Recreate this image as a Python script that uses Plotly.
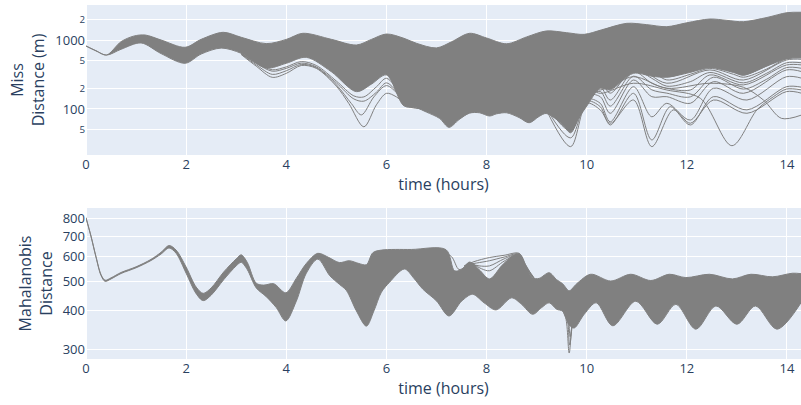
import plotly.graph_objects as go

GREY = "rgb(128,128,128)"

# ---------------- Miss distance (m): dense bundle envelope ----------------
miss_upper_t = [0, 0.2, 0.41, 0.7, 0.95, 1.18, 1.5, 1.98, 2.3, 2.74, 3.1, 3.6, 4.0, 4.33,
                4.9, 5.4, 5.7, 6.0, 6.35, 6.6, 7.0, 7.3, 7.66, 8.0, 8.4, 8.8, 9.19, 9.6,
                9.95, 10.3, 10.8, 11.2, 11.6, 12.0, 12.46, 12.8, 13.13, 13.6, 14.0, 14.3]
miss_upper = [826, 706, 611, 955, 1150, 1195, 1010, 791, 1033, 1307, 1106, 895, 1030, 1264,
              1033, 854, 1030, 1235, 1069, 904, 775, 950, 1264, 1080, 890, 1120, 1366, 1290,
              1220, 1420, 1766, 1690, 1578, 1800, 2042, 1950, 1866, 2150, 2523, 2560]

miss_lower_t = [0, 0.2, 0.41, 0.7, 1.1, 1.5, 1.98, 2.3, 2.7, 3.1, 3.6, 4.0, 4.4, 4.9, 5.4,
                5.7, 6.0, 6.35, 6.6, 6.8, 7.06, 7.25, 7.45, 7.66, 7.86, 8.06, 8.2, 8.4, 8.65,
                8.85, 9.05, 9.19, 9.4, 9.55, 9.68, 9.85, 10.0, 10.27, 10.47, 10.93,
                11.3, 11.6, 12.06, 12.46, 12.93, 13.13, 13.59, 14.0, 14.3]
miss_lower = [826, 700, 609, 740, 915, 640, 463, 631, 770, 646, 395, 463, 565, 349, 179,
              230, 313, 111, 104, 90, 73, 54, 70, 87, 88, 79, 85, 88, 75,
              63, 78, 86, 70, 55, 45, 75, 110, 200, 190, 330,
              300, 290, 340, 400, 340, 310, 420, 540, 560]

# ---------------- Miss distance (m): individual trajectories ----------------
miss_a_t = [3.1, 3.4, 3.72, 4.0, 4.3, 4.6, 5.0, 5.25, 5.55, 5.8, 6.0, 6.2, 6.45, 6.8]
miss_a = [620, 420, 289, 330, 430, 390, 215, 120, 55, 115, 169, 150, 108, 100]
miss_b_t = [3.1, 3.4, 3.72, 4.0, 4.3, 4.6, 5.0, 5.3, 5.5, 5.75, 6.0, 6.25, 6.5]
miss_b = [630, 440, 319, 360, 445, 400, 225, 120, 82, 150, 219, 160, 108]
miss_c_t = [3.1, 3.4, 3.72, 4.0, 4.3, 4.6, 5.0, 5.35, 5.55, 5.8, 6.0, 6.3, 6.5]
miss_c = [640, 460, 355, 390, 465, 410, 240, 140, 130, 175, 240, 150, 108]
miss_d_t = [3.1, 3.4, 3.72, 4.0, 4.3, 4.6, 5.0, 5.35, 5.55, 5.8, 6.0, 6.3, 6.5]
miss_d = [645, 470, 372, 410, 490, 430, 255, 155, 150, 210, 280, 160, 110]

miss_f1_t = [9.2, 9.68, 10.0, 10.27, 10.47, 10.935, 11.3, 11.6, 12.07, 12.46, 12.93, 13.13, 13.59, 13.99, 14.3]
miss_f1 = [250, 200, 330, 463, 370, 547, 420, 295, 360, 413, 350, 313, 420, 577, 590]
miss_f2_t = [9.2, 9.68, 10.0, 10.27, 10.47, 10.935, 11.6, 12.46, 13.13, 13.99, 14.3]
miss_f2 = [200, 120, 230, 295, 211, 413, 237, 370, 264, 517, 529]
miss_f3_t = [9.2, 9.68, 10.0, 10.27, 10.47, 10.935, 11.3, 11.6, 12.07, 12.46, 13.13, 13.99, 14.3]
miss_f3 = [160, 80, 180, 211, 135, 349, 237, 200, 189, 313, 224, 437, 437]
miss_f4_t = [9.2, 9.68, 10.0, 10.27, 10.47, 10.935, 11.3, 11.6, 12.07, 12.53, 13.13, 13.99, 14.3]
miss_f4 = [130, 60, 160, 151, 86.5, 264, 151, 151, 121, 250, 169, 370, 349]
miss_f5_t = [9.2, 9.68, 10.0, 10.27, 10.47, 10.935, 11.3, 11.6, 12.07, 12.53, 13.2, 13.99, 14.3]
miss_f5 = [110, 48, 140, 121, 65, 211, 77, 121, 69, 200, 135, 295, 280]
miss_f6_t = [9.2, 9.68, 10.0, 10.27, 10.47, 10.935, 11.3, 11.67, 12.07, 12.53, 13.2, 13.99, 14.3]
miss_f6 = [100, 38, 130, 108, 58.5, 169, 35.4, 108, 58.5, 151, 97, 211, 207]
miss_f7_t = [9.2, 9.68, 10.0, 10.27, 10.47, 10.935, 11.3, 11.73, 12.07, 12.53, 13.2, 13.99, 14.3]
miss_f7 = [95, 28.3, 121, 97, 62, 135, 28.3, 97, 62, 135, 86.5, 179, 169]
miss_f8_t = [9.2, 9.68, 10.0, 10.27, 10.935, 11.6, 12.27, 12.9, 13.4, 13.73, 13.99, 14.3]
miss_f8 = [180, 70, 200, 169, 237, 189, 143, 29.2, 97, 151, 195, 189]
miss_f9_t = [9.2, 9.68, 10.0, 10.27, 10.935, 11.6, 12.46, 13.13, 13.53, 13.89, 14.3]
miss_f9 = [220, 100, 210, 189, 295, 200, 237, 207, 135, 73, 82]
miss_f10_t = [10.0, 10.27, 10.47, 10.935, 11.3, 11.6, 12.07, 12.46, 12.93, 13.13, 13.59, 13.99, 14.3]
miss_f10 = [250, 380, 300, 480, 360, 265, 320, 390, 320, 290, 380, 540, 555]
miss_f11_t = [10.0, 10.27, 10.47, 10.935, 11.3, 11.6, 12.07, 12.46, 13.13, 13.59, 13.99, 14.3]
miss_f11 = [200, 250, 170, 380, 280, 215, 250, 340, 240, 330, 470, 470]
miss_f12_t = [10.0, 10.27, 10.47, 10.935, 11.3, 11.6, 12.07, 12.53, 13.13, 13.59, 13.99, 14.3]
miss_f12 = [150, 180, 110, 300, 190, 170, 150, 290, 195, 270, 400, 390]

miss_lines = [
    (miss_a_t, miss_a), (miss_b_t, miss_b), (miss_c_t, miss_c), (miss_d_t, miss_d),
    (miss_f1_t, miss_f1), (miss_f2_t, miss_f2), (miss_f3_t, miss_f3), (miss_f4_t, miss_f4),
    (miss_f5_t, miss_f5), (miss_f6_t, miss_f6), (miss_f7_t, miss_f7), (miss_f8_t, miss_f8),
    (miss_f9_t, miss_f9), (miss_f10_t, miss_f10), (miss_f11_t, miss_f11), (miss_f12_t, miss_f12),
]

# ---------------- Mahalanobis distance: dense bundle envelope ----------------
maha_upper_t = [0, 0.1, 0.2, 0.3, 0.38, 0.5, 0.7, 1.0, 1.3, 1.5, 1.66, 1.8, 2.0, 2.2, 2.34,
                2.5, 2.75, 3.0, 3.1, 3.22, 3.4, 3.55, 3.75, 3.99, 4.2, 4.4, 4.63, 4.85, 5.06,
                5.26, 5.45, 5.6, 5.73, 5.9, 6.5, 7.19, 7.36, 7.5, 7.66, 7.85, 8.06, 8.3, 8.5,
                8.65, 8.78, 8.92, 9.05, 9.25, 9.4, 9.52, 9.65, 9.8, 10.08, 10.48, 10.88,
                11.28, 11.65, 11.98, 12.45, 12.91, 13.28, 13.71, 14.11, 14.3]
maha_upper = [803, 700, 600, 525, 503, 512, 533, 556, 588, 620, 652, 630, 555, 478, 456,
              475, 535, 590, 608, 575, 492, 485, 490, 458, 510, 570, 615, 596, 574,
              582, 570, 565, 618, 630, 633, 632, 540, 545, 576, 545, 508, 560, 600,
              612, 560, 512, 510, 532, 505, 490, 465, 490, 526, 500, 526,
              502, 526, 513, 526, 508, 526, 516, 530, 528]

maha_lower_t = [0, 0.1, 0.2, 0.3, 0.38, 0.5, 0.7, 1.0, 1.3, 1.5, 1.66, 1.8, 2.0, 2.2, 2.34,
                2.5, 2.75, 3.0, 3.1, 3.22, 3.4, 3.6, 3.8, 3.99, 4.2, 4.4, 4.63, 4.87, 5.06,
                5.2, 5.4, 5.6, 5.75, 5.9, 6.06, 6.36, 6.55, 6.73, 7.0, 7.25, 7.5, 7.72,
                7.95, 8.19, 8.5, 8.7, 8.92, 9.1, 9.25, 9.4, 9.52, 9.65, 9.75, 9.95, 10.19,
                10.52, 10.98, 11.41, 11.78, 12.18, 12.58, 13.0, 13.37, 13.8, 14.3]
maha_lower = [800, 697, 597, 521, 499, 508, 529, 552, 583, 612, 640, 615, 530, 455, 432,
              450, 505, 560, 575, 545, 475, 445, 410, 371, 430, 530, 589, 520, 488,
              466, 400, 357, 400, 460, 495, 547, 510, 470, 431, 385, 430, 453,
              425, 403, 441, 420, 390, 410, 425, 405, 399, 360, 352, 390, 425,
              358, 430, 362, 420, 349, 415, 362, 415, 349, 430]

# ---------------- Mahalanobis distance: individual trajectories ----------------
maha_fan1_t = [7.55, 7.75, 8.06, 8.35, 8.65, 8.78, 8.92]
maha_fan1 = [560, 578, 596, 606, 615, 565, 515]
maha_fan2_t = [7.6, 7.8, 8.06, 8.35, 8.65, 8.8, 8.95]
maha_fan2 = [565, 572, 582, 598, 612, 555, 512]
maha_fan3_t = [7.65, 7.85, 8.06, 8.35, 8.62, 8.8, 8.95]
maha_fan3 = [570, 560, 560, 590, 608, 550, 510]
maha_fan4_t = [7.7, 7.9, 8.06, 8.35, 8.6, 8.8, 8.95]
maha_fan4 = [572, 548, 540, 580, 605, 545, 508]
maha_drop_t = [7.05, 7.3, 7.45, 7.6]
maha_drop = [632, 600, 545, 560]
maha_spike1_t = [9.45, 9.58, 9.65, 9.72, 9.85]
maha_spike1 = [420, 380, 292, 370, 420]
maha_spike2_t = [9.45, 9.6, 9.66, 9.74, 9.9]
maha_spike2 = [430, 390, 310, 380, 430]
maha_spike3_t = [9.5, 9.62, 9.67, 9.75, 9.9]
maha_spike3 = [440, 400, 330, 400, 450]

maha_lines = [
    (maha_fan1_t, maha_fan1), (maha_fan2_t, maha_fan2), (maha_fan3_t, maha_fan3),
    (maha_fan4_t, maha_fan4), (maha_drop_t, maha_drop),
    (maha_spike1_t, maha_spike1), (maha_spike2_t, maha_spike2), (maha_spike3_t, maha_spike3),
]

x_ticks = [0, 2, 4, 6, 8, 10, 12, 14]
maha_ticks = [300, 400, 500, 600, 700, 800]

fig = go.Figure()


def add_band(t_hi, v_hi, t_lo, v_lo, xa, ya):
    style = dict(color=GREY, width=1, shape="spline", smoothing=0.9)
    fig.add_trace(go.Scatter(x=t_hi, y=v_hi, mode="lines", line=style,
                             xaxis=xa, yaxis=ya, hoverinfo="skip"))
    fig.add_trace(go.Scatter(x=t_lo, y=v_lo, mode="lines", line=style, fill="tonexty",
                             fillcolor=GREY, xaxis=xa, yaxis=ya, hoverinfo="skip"))


def add_lines(lines, xa, ya):
    for t, v in lines:
        fig.add_trace(go.Scatter(x=t, y=v, mode="lines",
                                 line=dict(color=GREY, width=1, shape="spline", smoothing=0.9),
                                 xaxis=xa, yaxis=ya, hoverinfo="skip"))


add_band(miss_upper_t, miss_upper, miss_lower_t, miss_lower, "x", "y")
add_lines(miss_lines, "x", "y")
add_band(maha_upper_t, maha_upper, maha_lower_t, maha_lower, "x2", "y2")
add_lines(maha_lines, "x2", "y2")

title_font = dict(size=16)
tick_font = dict(size=13)

fig.update_layout(
    width=801, height=405,
    margin=dict(l=86, r=0, t=5, b=46),
    showlegend=False,
    xaxis=dict(domain=[0, 1], anchor="y", range=[0, 14.28], tickvals=x_ticks,
               title=dict(text="time (hours)", font=title_font, standoff=4), tickfont=tick_font),
    yaxis=dict(domain=[0.5763, 1], anchor="x", type="log", range=[1.33, 3.514], dtick="D2",
               title=dict(text="Miss<br>Distance (m)", font=title_font, standoff=6),
               tickfont=tick_font),
    xaxis2=dict(domain=[0, 1], anchor="y2", range=[0, 14.28], tickvals=x_ticks,
                title=dict(text="time (hours)", font=title_font, standoff=4), tickfont=tick_font),
    yaxis2=dict(domain=[0, 0.4266], anchor="x2", type="log", range=[2.446, 2.936],
                tickvals=maha_ticks,
                title=dict(text="Mahalanobis<br>Distance", font=title_font, standoff=6),
                tickfont=tick_font),
)

fig.write_html("out.html")
